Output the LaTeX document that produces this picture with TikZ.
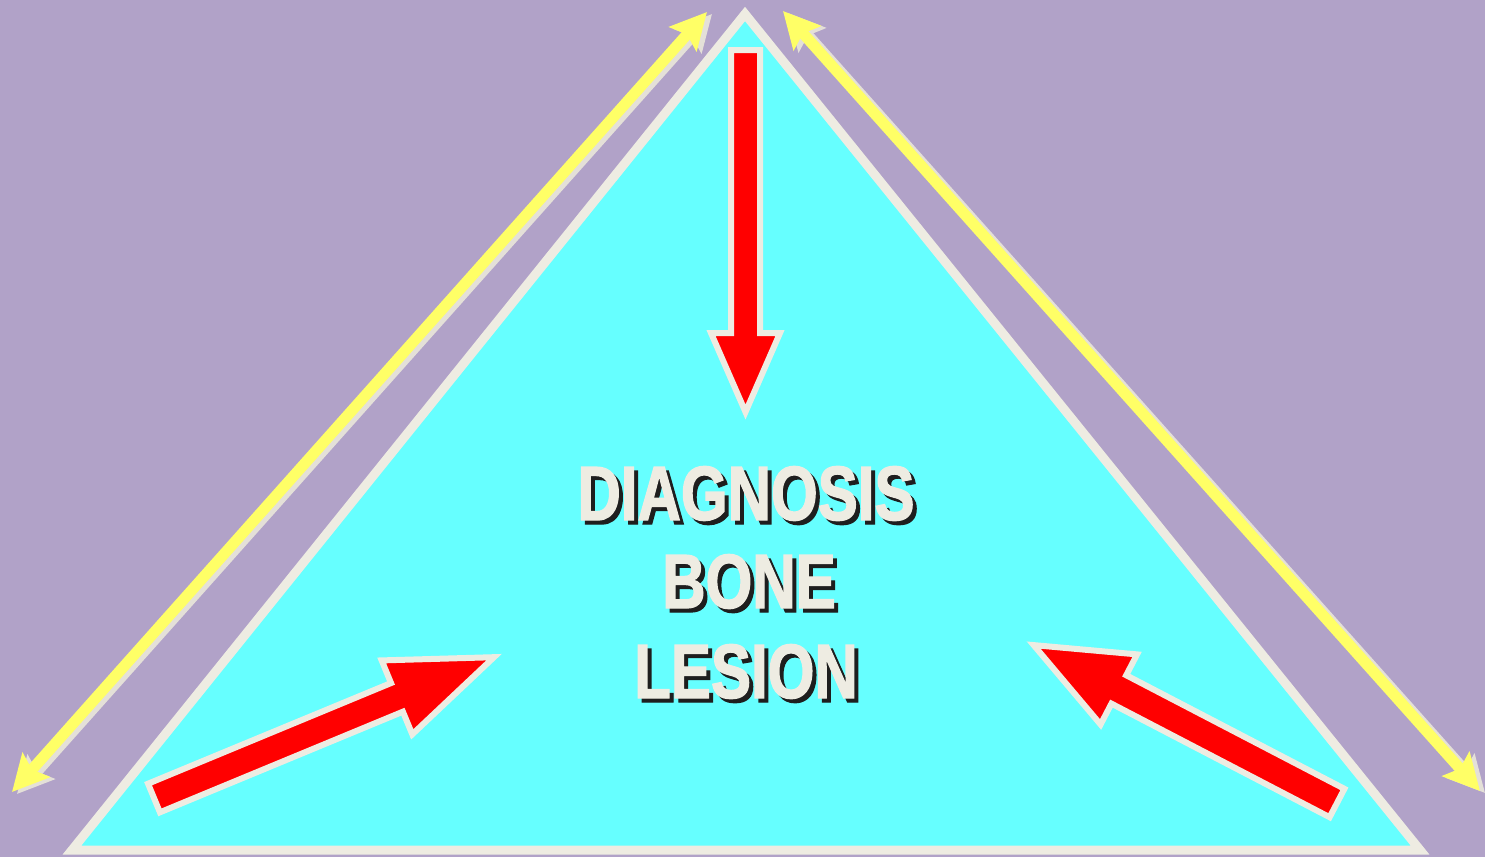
\documentclass[tikz,border=0pt]{standalone}
\usepackage{fontspec}
\usetikzlibrary{arrows.meta}
\newfontfamily\lblfont{Liberation Sans}[FakeStretch=0.78,FakeBold=1.6]
\definecolor{bgpurple}{HTML}{B1A2C8}
\definecolor{tricyan}{HTML}{66FFFF}
\definecolor{creamline}{HTML}{EEECE2}
\definecolor{ylw}{HTML}{FFFF66}
\definecolor{shadowcream}{HTML}{E4E0D8}
\definecolor{txtshadow}{HTML}{1E1E1E}
\tikzset{
  tri/.style={draw=creamline, fill=tricyan, line width=9pt, line join=miter},
  fatarrowstyle/.style={draw=creamline, fill=red, line width=6pt, line join=miter, miter limit=20},
  yarrow/.style={draw=ylw, line width=11pt, {Stealth[length=36pt,width=36pt,inset=6pt]}-{Stealth[length=36pt,width=36pt,inset=6pt]}},
  yshadow/.style={draw=shadowcream, line width=11pt, {Stealth[length=36pt,width=36pt,inset=6pt]}-{Stealth[length=36pt,width=36pt,inset=6pt]}},
  lbl/.style={font=\lblfont\bfseries\fontsize{77}{89}\selectfont, text=creamline, anchor=base, inner sep=0pt},
  lblsh/.style={font=\lblfont\bfseries\fontsize{77}{89}\selectfont, text=txtshadow, anchor=base, inner sep=0pt}
}
\newcommand\fatarrow[6]{%
  \begin{scope}[shift={(#1)},rotate=#2,x=1pt,y=1pt]
    \filldraw[fatarrowstyle] (0,#4) -- ({#3-#6},#4) -- ({#3-#6},#5) -- (#3,0) -- ({#3-#6},-#5) -- ({#3-#6},-#4) -- (0,-#4) -- cycle;
  \end{scope}}
\begin{document}
\begin{tikzpicture}[x=1pt,y=-1pt]
\fill[bgpurple] (0,0) rectangle (1485,857);
\useasboundingbox (0,0) rectangle (1485,857);
% triangle
\coordinate (apex) at (745,14);
\coordinate (bl) at (72,850);
\coordinate (br) at (1420,850);
\filldraw[tri] (apex) -- (bl) -- (br) -- cycle;
% yellow double arrows
\coordinate (yla) at (12,792);
\coordinate (ylb) at (707,12);
\coordinate (yra) at (783,11);
\coordinate (yrb) at (1480,791);
\draw[yshadow] ([shift={(5,2)}]yla) -- ([shift={(5,2)}]ylb);
\draw[yshadow] ([shift={(5,2)}]yra) -- ([shift={(5,2)}]yrb);
\draw[yarrow] (yla) -- (ylb);
\draw[yarrow] (yra) -- (yrb);
% red arrows
\coordinate (topTail) at (745.5,50);
\coordinate (leftTail) at (154,798);
\coordinate (rightTail) at (1337,803);
\fatarrow{topTail}{-90}{362}{14.5}{34.5}{79}
\fatarrow{leftTail}{22.5}{368}{15.5}{40}{105}
\fatarrow{rightTail}{152.5}{342}{16}{39.5}{96}
% text
\node[lblsh] (s1) at (750,524) {DIAGNOSIS};
\node[lblsh] (s2) at (753,612) {BONE};
\node[lblsh] (s3) at (750,702) {LESION};
\node[lbl] (l1) at (746,520) {DIAGNOSIS};
\node[lbl] (l2) at (749,608) {BONE};
\node[lbl] (l3) at (746,698) {LESION};
\end{tikzpicture}
\end{document}
